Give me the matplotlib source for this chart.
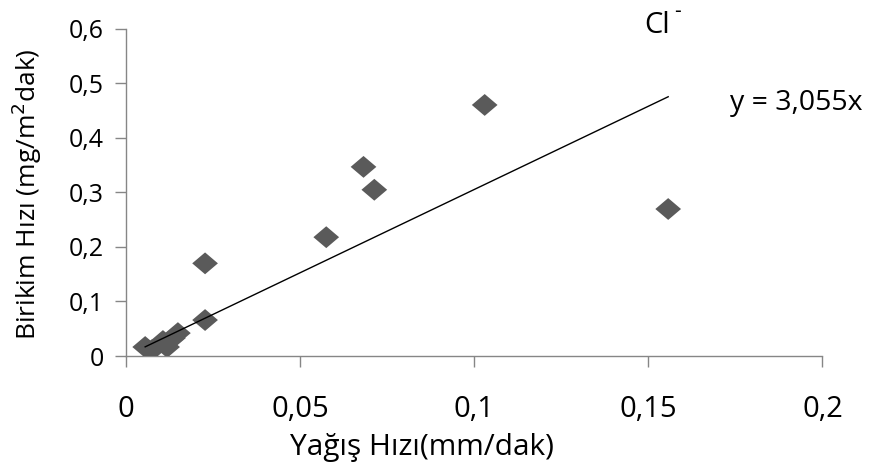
import matplotlib
matplotlib.use("Agg")
import matplotlib.pyplot as plt
import numpy as np
from matplotlib.ticker import FuncFormatter

plt.rcParams['font.family'] = ['Open Sans', 'DejaVu Sans']

# Yağış hızı (mm/dak) ve Cl- birikim hızı (mg/m2 dak)
rain_rate = [0.0055, 0.0075, 0.0106, 0.0118, 0.0135, 0.0149,
             0.0227, 0.0227, 0.0575, 0.0682, 0.0713, 0.1030, 0.1557]
deposition = [0.0165, 0.011, 0.0275, 0.0165, 0.033, 0.042,
              0.066, 0.170, 0.218, 0.347, 0.305, 0.4606, 0.2697]
slope = 3.055
x_ticks = [0, 0.05, 0.1, 0.15, 0.2]
y_ticks = [0, 0.1, 0.2, 0.3, 0.4, 0.5, 0.6]

fig = plt.figure(figsize=(8.77, 4.63), dpi=100)
ax = fig.add_axes([0.1437, 0.2311, 0.7941, 0.7063])

diamond = [(-1, 0), (0, 0.85), (1, 0), (0, -0.85)]
ax.scatter(rain_rate, deposition, marker=diamond, s=18.5**2,
           color='#5a5a5a', edgecolors='none', zorder=3)

# Orijinden geçen doğrusal eğilim çizgisi
xl = np.array([min(rain_rate), max(rain_rate)])
ax.plot(xl, slope * xl, color='black', lw=1.0, zorder=4)

ax.set_xlim(0, 0.2)
ax.set_ylim(0, 0.6)
ax.set_xticks(x_ticks)
ax.set_yticks(y_ticks)

fmt = FuncFormatter(lambda v, p: ('%g' % v).replace('.', ','))
ax.xaxis.set_major_formatter(fmt)
ax.yaxis.set_major_formatter(fmt)

for s in ['top', 'right']:
    ax.spines[s].set_visible(False)
for s in ['left', 'bottom']:
    ax.spines[s].set_color('#868686')
    ax.spines[s].set_linewidth(1.0)

ax.tick_params(axis='y', direction='out', length=8, width=1.0,
               color='#868686', labelsize=18, pad=8, labelcolor='black')
ax.tick_params(axis='x', direction='out', length=8, width=1.0,
               color='#868686', labelsize=21, pad=20, labelcolor='black')

ax.set_xlabel('Yağış Hızı(mm/dak)', fontsize=21.5)
ax.xaxis.set_label_coords(0.425, -0.235)
ax.set_ylabel('Birikim Hızı (mg/m$^2$dak)', fontsize=19)
ax.yaxis.set_label_coords(-0.118, 0.495)

ax.text(0.1488, 0.607, 'Cl', fontsize=21, ha='left', va='center')
ax.text(0.1574, 0.632, '-', fontsize=15, ha='left', va='center')
ax.text(0.1735, 0.465, 'y = 3,055x', fontsize=20.5, ha='left', va='center',
        clip_on=False)

fig.savefig('out.png', dpi=100)
